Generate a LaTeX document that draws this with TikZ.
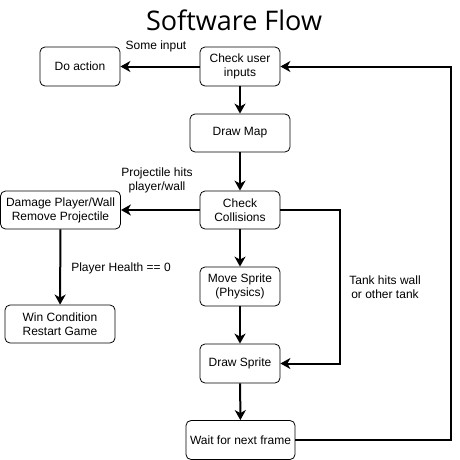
\documentclass[tikz,border=0pt]{standalone}
\usepackage{fontspec}
\setmainfont{Liberation Sans}
\newfontfamily\titlefont{Open Sans}
\usetikzlibrary{arrows.meta}
\begin{document}
\begin{tikzpicture}[x=1pt,y=-1pt,
  box/.style={draw, rounded corners=5pt, line width=0.8pt, align=center, inner sep=0pt, font=\fontsize{12}{14}\selectfont},
  conn/.style={line width=2pt, -{Stealth[length=10pt,width=11pt,inset=3pt]}},
  lbl/.style={align=center, font=\fontsize{12}{14}\selectfont}]
\useasboundingbox (0,0) rectangle (460,460);
\node[font=\titlefont\fontsize{27}{30}\selectfont] (title) at (234,20) {Software Flow};
\node[box, minimum width=80pt, minimum height=39pt] (act) at (80,66.5) {Do action};
\node[box, minimum width=80pt, minimum height=39pt] (cui) at (240,66.5) {Check user\\inputs};
\node[box, minimum width=100pt, minimum height=38pt] (map) at (240,133) {Draw Map};
\node[box, minimum width=80pt, minimum height=38pt] (col) at (240,210) {Check\\Collisions};
\node[box, minimum width=120pt, minimum height=38pt] (dmg) at (60.5,210) {Damage Player/Wall\\Remove Projectile};
\node[box, minimum width=110pt, minimum height=38pt] (win) at (60,324) {Win Condition\\Restart Game};
\node[box, minimum width=80pt, minimum height=39pt] (mov) at (240,286.5) {Move Sprite\\(Physics)};
\node[box, minimum width=80pt, minimum height=39pt] (drs) at (240,363.5) {Draw Sprite};
\node[box, minimum width=109pt, minimum height=39pt] (wait) at (240.5,440) {Wait for next frame};
\coordinate (c1) at (340,210);
\coordinate (c2) at (340,363.5);
\coordinate (c3) at (451,440);
\coordinate (c4) at (451,66.5);
\draw[conn] (cui) -- (act);
\draw[conn] (cui) -- (map);
\draw[conn] (map) -- (col);
\draw[conn] (col) -- (dmg);
\draw[conn] (col) -- (mov);
\draw[conn] (dmg) -- (win);
\draw[conn] (mov) -- (drs);
\draw[conn] (drs) -- (wait);
\draw[conn] (col.east) -- (c1) -- (c2) -- (drs.east);
\draw[conn] (wait.east) -- (c3) -- (c4) -- (cui.east);
\node[lbl] (l1) at (156,46) {Some input};
\node[lbl] (l2) at (157,180) {Projectile hits\\player/wall};
\node[lbl] (l3) at (121,268) {Player Health == 0};
\node[lbl] (l4) at (385,287) {Tank hits wall\\or other tank};
\end{tikzpicture}
\end{document}
